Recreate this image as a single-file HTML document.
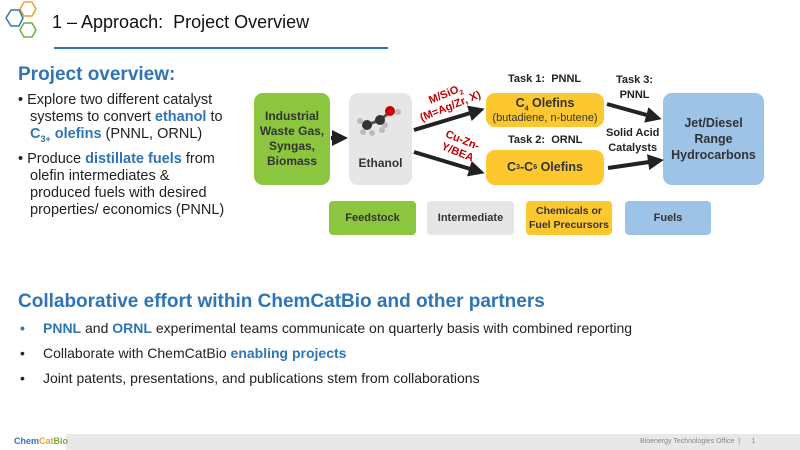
<!DOCTYPE html>
<html><head><meta charset="utf-8"><style>
body{margin:0;width:800px;height:450px;position:relative;overflow:hidden;background:#fff;font-family:"Liberation Sans",sans-serif;}
.a{position:absolute;}
.box{position:absolute;border-radius:9px;display:flex;align-items:center;justify-content:center;text-align:center;font-family:"Liberation Sans",sans-serif;font-weight:bold;font-size:11.5px;line-height:15px;color:#333;}
.blue{color:#2e75b6;font-weight:bold;}
.t{font-family:"Liberation Sans",sans-serif;font-weight:bold;font-size:11px;color:#222;position:absolute;white-space:nowrap;}
.red{color:#c00000;}
sub{line-height:0;}
</style></head><body>
<svg class="a" style="left:0;top:0" width="50" height="50">
<g fill="none" stroke-width="1.5">
<polygon points="22,3 30,3 34,10 30,17 22,17 18,10" stroke="#f0a030" transform="translate(2,-1)"/>
<polygon points="4,24 9,16 17,16 21,24 17,32 9,32" stroke="#2e75b6" transform="translate(2,-6)"/>
<polygon points="22,3 30,3 34,10 30,17 22,17 18,10" stroke="#70ad47" transform="translate(2,20)"/>
</g></svg>
<div class="a" style="left:52px;top:12px;font-size:18px;color:#111;">1 – Approach:&nbsp; Project Overview</div>
<div class="a" style="left:54px;top:47px;width:334px;height:2px;background:#2e75b6;"></div>

<div class="a blue" style="left:18px;top:64px;font-size:19px;">Project overview:</div>
<div class="a" style="left:18px;top:92px;font-size:14.5px;line-height:17px;color:#222;width:250px;white-space:nowrap;">
<div style="padding-left:12px;text-indent:-12px;">• Explore two different catalyst<br>systems to convert <span class="blue">ethanol</span> to<br><span class="blue">C<sub style="font-size:9px">3+</sub> olefins</span> (PNNL, ORNL)</div>
<div style="padding-left:12px;text-indent:-12px;margin-top:8px;">• Produce <span class="blue">distillate fuels</span> from<br>olefin intermediates &amp;<br>produced fuels with desired<br>properties/ economics (PNNL)</div>
</div>

<div class="box" style="left:254px;top:93px;width:76px;height:92px;background:#8cc63f;font-size:12px;">Industrial<br>Waste Gas,<br>Syngas,<br>Biomass</div>
<div class="box" style="left:349px;top:93px;width:63px;height:92px;background:#e6e6e6;align-items:flex-end;font-size:12px;"><span style="margin-bottom:14px">Ethanol</span></div>
<svg class="a" style="left:355px;top:100px" width="50" height="40">
<line x1="12" y1="25" x2="25" y2="20" stroke="#555" stroke-width="3"/><line x1="25" y1="20" x2="35" y2="12" stroke="#555" stroke-width="3"/>
<circle cx="5" cy="21" r="3" fill="#bbb"/><circle cx="8" cy="32" r="3" fill="#bbb"/><circle cx="17" cy="33" r="3" fill="#bbb"/><circle cx="27" cy="30" r="3" fill="#bbb"/><circle cx="30" cy="25" r="3" fill="#bbb"/><circle cx="43" cy="12" r="3" fill="#bbb"/>
<circle cx="12" cy="25" r="5" fill="#333"/><circle cx="25" cy="20" r="5" fill="#333"/><circle cx="35" cy="11" r="5" fill="#c00"/>
</svg>
<div class="box" style="left:486px;top:93px;width:118px;height:34px;background:#fdc82f;line-height:14px;"><div><span style="font-size:12.5px">C<sub style="font-size:7px">4</sub> Olefins</span><br><span style="font-weight:normal;font-size:11px">(butadiene, n-butene)</span></div></div>
<div class="box" style="left:486px;top:150px;width:118px;height:35px;background:#fdc82f;font-size:12.5px;">C<sub style="font-size:7px">3</sub>-C<sub style="font-size:7px">6</sub>&nbsp;Olefins</div>
<div class="box" style="left:663px;top:93px;width:101px;height:92px;background:#9dc3e6;font-size:12.5px;line-height:16px;">Jet/Diesel<br>Range<br>Hydrocarbons</div>

<div class="t" style="left:508px;top:73px;">Task 1:&nbsp; PNNL</div>
<div class="t" style="left:508px;top:134px;">Task 2:&nbsp; ORNL</div>
<div class="t" style="left:616px;top:73px;text-align:center;line-height:15px;">Task 3:<br>PNNL</div>
<div class="t" style="left:606px;top:126px;text-align:center;line-height:15px;">Solid Acid<br>Catalysts</div>
<div class="t red" style="left:416px;top:88px;transform:rotate(-22deg);text-align:center;line-height:13px;">M/SiO<sub style="font-size:7px">2</sub><br>(M=Ag/Zr, X)</div>
<div class="t red" style="left:442px;top:134px;transform:rotate(22deg);text-align:center;line-height:13px;">Cu-Zn-<br>Y/BEA</div>

<svg class="a" style="left:0;top:0" width="800" height="450">
<defs><marker id="m" markerWidth="4" markerHeight="4" refX="2" refY="2" orient="auto"><path d="M0,0 L4,2 L0,4z" fill="#222"/></marker></defs>
<g stroke="#222" stroke-width="4" marker-end="url(#m)">
<line x1="331" y1="138" x2="340" y2="138"/>
<line x1="414" y1="130" x2="477" y2="111"/>
<line x1="414" y1="152" x2="477" y2="171"/>
<line x1="607" y1="104" x2="654" y2="117"/>
<line x1="608" y1="168" x2="656" y2="161"/>
</g></svg>

<div class="box" style="left:329px;top:201px;width:87px;height:34px;background:#8cc63f;border-radius:4px;font-size:11px;">Feedstock</div>
<div class="box" style="left:427px;top:201px;width:87px;height:34px;background:#e6e6e6;border-radius:4px;font-size:11px;">Intermediate</div>
<div class="box" style="left:526px;top:201px;width:86px;height:34px;background:#fdc82f;border-radius:4px;line-height:14px;font-size:10.5px;">Chemicals or<br>Fuel Precursors</div>
<div class="box" style="left:625px;top:201px;width:86px;height:34px;background:#9dc3e6;border-radius:4px;font-size:11px;">Fuels</div>

<div class="a blue" style="left:18px;top:291px;font-size:19px;">Collaborative effort within ChemCatBio and other partners</div>
<div class="a" style="left:20px;top:320px;font-size:14px;color:#222;line-height:17px;">
<div style="position:absolute;top:0;white-space:nowrap;"><span class="blue">•</span><span style="position:absolute;left:23px;"><span class="blue">PNNL</span> and <span class="blue">ORNL</span> experimental teams communicate on quarterly basis with combined reporting</span></div>
<div style="position:absolute;top:25px;white-space:nowrap;">•<span style="position:absolute;left:23px;">Collaborate with ChemCatBio <span class="blue">enabling projects</span></span></div>
<div style="position:absolute;top:50px;white-space:nowrap;">•<span style="position:absolute;left:23px;">Joint patents, presentations, and publications stem from collaborations</span></div>
</div>

<div class="a" style="left:0;top:434px;width:800px;height:16px;background:#e8e8e8;"></div>
<div class="a" style="left:0;top:434px;width:66px;height:16px;background:#fff;"></div>
<div class="a" style="left:14px;top:436px;font-size:9px;font-weight:bold;color:#2e75b6;">Chem<span style="color:#f0a030">Cat</span><span style="color:#70ad47">Bio</span></div>
<div class="a" style="left:640px;top:438px;font-size:7px;color:#888;">Bioenergy Technologies Office &nbsp;|&nbsp;&nbsp;&nbsp;&nbsp;&nbsp; 1</div>
</body></html>
